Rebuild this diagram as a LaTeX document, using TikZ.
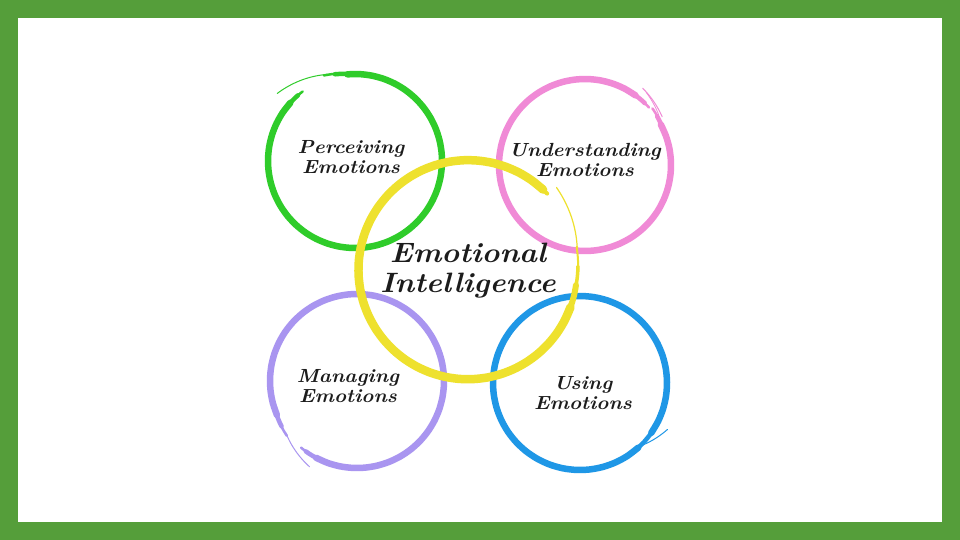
\documentclass[tikz,border=0pt]{standalone}
\usepackage{graphicx}
\definecolor{frame}{HTML}{559E3A}
\definecolor{cgreen}{HTML}{2FCC2A}
\definecolor{cpink}{HTML}{F08AD6}
\definecolor{cyellow}{HTML}{EEE12E}
\definecolor{cpurple}{HTML}{A995F0}
\definecolor{cblue}{HTML}{1F97E6}
\definecolor{ink}{HTML}{1C1C1C}
\newcommand\brush[8]{%
  \draw[#8, line width=#7pt, line cap=round]
    plot[domain=#5:#6, samples=40, smooth, variable=\t]
    ({#1+(#3+(#4-#3)*(\t-#5)/(#6-#5))*cos(\t)},
     {#2+(#3+(#4-#3)*(\t-#5)/(#6-#5))*sin(\t)});}
\newcommand\twoline[2]{\scalebox{1.08}[1]{\begin{tabular}{@{}c@{}}#1\\#2\end{tabular}}}
\tikzset{
  lbl/.style={inner sep=0pt, text=ink, font=\bfseries\itshape\fontsize{19}{20}\selectfont},
  biglbl/.style={inner sep=0pt, text=ink, font=\bfseries\itshape\fontsize{28}{30}\selectfont}
}
\begin{document}
\begin{tikzpicture}[x=1pt,y=1pt]
\useasboundingbox (0,0) rectangle (960,-540);
\fill[frame] (0,0) rectangle (960,-540);
\fill[white] (18,-18) rectangle (942,-522);
% green
\brush{355}{-161}{87}{87}{127}{133}{2.5}{cgreen}
\brush{355}{-161}{87}{87}{131}{140}{4.5}{cgreen}
\brush{355}{-161}{87}{87}{138}{455}{6.5}{cgreen}
\brush{355}{-161}{87}{89}{453}{463}{4.5}{cgreen}
\brush{355}{-161}{89}{91}{461}{470}{2.5}{cgreen}
\brush{355}{-161}{91}{103}{468}{499}{1}{cgreen}
% pink
\brush{585}{-165}{86}{86}{42}{48}{2.5}{cpink}
\brush{585}{-165}{86}{86}{46}{56}{4.5}{cpink}
\brush{585}{-165}{86}{86}{54}{388}{6.5}{cpink}
\brush{585}{-165}{86}{87}{386}{394}{4.5}{cpink}
\brush{585}{-165}{87}{88}{392}{400}{2.5}{cpink}
\brush{585}{-165}{91}{96}{392}{413}{1}{cpink}
\brush{585}{-165}{89}{95}{394}{410}{0.8}{cpink}
% purple
\brush{357}{-381}{87}{87}{230}{236}{2.5}{cpurple}
\brush{357}{-381}{87}{87}{234}{244}{4.5}{cpurple}
\brush{357}{-381}{87}{87}{242}{563}{6.5}{cpurple}
\brush{357}{-381}{87}{88}{561}{571}{4.5}{cpurple}
\brush{357}{-381}{88}{89}{569}{578}{2.5}{cpurple}
\brush{357}{-381}{88}{98}{576}{601}{1}{cpurple}
% blue
\brush{580}{-383}{87}{87}{-45}{-40}{2.5}{cblue}
\brush{580}{-383}{87}{87}{-42}{-33}{4.5}{cblue}
\brush{580}{-383}{87}{87}{-35}{312}{6.5}{cblue}
\brush{580}{-383}{87}{87}{310}{317}{4.5}{cblue}
\brush{580}{-383}{87}{87}{315}{321}{2.5}{cblue}
\brush{580}{-383}{88}{99}{-45}{-28}{1}{cblue}
% yellow
\brush{468}{-270}{110}{110}{44}{49}{4}{cyellow}
\brush{468}{-270}{110}{109}{47}{340}{8.5}{cyellow}
\brush{468}{-270}{109}{109}{338}{352}{6}{cyellow}
\brush{468}{-270}{109}{110}{350}{362}{3.5}{cyellow}
\brush{468}{-270}{110}{111}{360}{372}{2}{cyellow}
\brush{468}{-270}{111}{121}{370}{403}{1.2}{cyellow}
% labels
\node[lbl] (perc) at (351,-160) {\twoline{Perceiving}{Emotions}};
\node[lbl] (under) at (585,-163) {\twoline{Understanding}{Emotions}};
\node[lbl] (manag) at (348,-388) {\twoline{Managing}{Emotions}};
\node[lbl] (using) at (583,-395) {\twoline{Using}{Emotions}};
\node[biglbl] (ei) at (468,-271) {\twoline{Emotional}{Intelligence}};
\end{tikzpicture}
\end{document}
